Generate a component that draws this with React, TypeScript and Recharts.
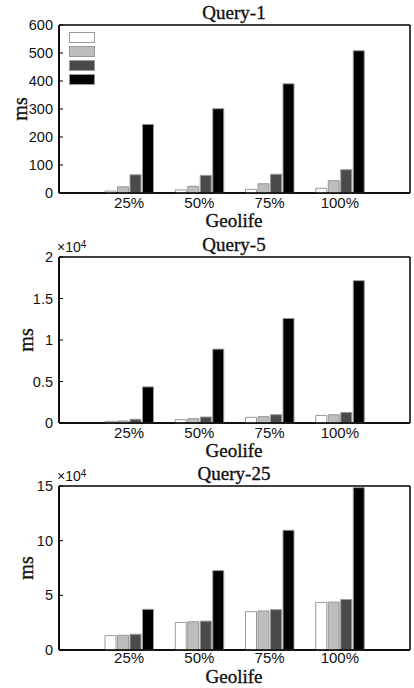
import { BarChart, Bar, XAxis, YAxis, Legend, CartesianGrid } from 'recharts';

const categories = ['25%', '50%', '75%', '100%'];

// Query-1 (ms)
const q1White = [7, 11, 13, 17];
const q1Light = [22, 24, 33, 44];
const q1Dark = [65, 63, 67, 83];
const q1Black = [245, 301, 390, 508];

// Query-5 (ms)
const q5White = [200, 400, 680, 910];
const q5Light = [250, 520, 760, 1000];
const q5Dark = [450, 720, 1000, 1270];
const q5Black = [4350, 8900, 12600, 17150];

// Query-25 (ms)
const q25White = [13200, 25200, 35100, 43500];
const q25Light = [13500, 25800, 35700, 43800];
const q25Dark = [14400, 26400, 36900, 46200];
const q25Black = [37200, 72600, 109500, 148500];

const q1Ticks = [0, 100, 200, 300, 400, 500, 600];
const q5Ticks = [0, 5000, 10000, 15000, 20000];
const q25Ticks = [0, 50000, 100000, 150000];

const seriesKeys = ['white', 'light', 'dark', 'black'];
const seriesFills = ['#ffffff', '#bdbdbd', '#4a4a4a', '#000000'];

const SERIF = '"Liberation Serif", "Times New Roman", serif';
const SANS = '"Liberation Sans", Arial, sans-serif';

function buildRows(w: number[], l: number[], d: number[], b: number[]) {
  return categories.map((cat, i) => ({ cat, white: w[i], light: l[i], dark: d[i], black: b[i] }));
}

function Swatches() {
  return (
    <div style={{ display: 'flex', flexDirection: 'column', gap: 3 }}>
      {seriesFills.map((f) => (
        <div key={f} style={{ width: 24, height: 9, background: f, border: '1px solid #999' }} />
      ))}
    </div>
  );
}

// box frame around the plot area (top/bottom + left/right edges)
const frameH = ({ offset }: any) => [offset.top, offset.top + offset.height];
const frameV = ({ offset }: any) => [offset.left, offset.left + offset.width];

const serifText = {
  fontFamily: SERIF,
  color: '#111',
  WebkitTextStroke: '0.35px #111',
} as const;

interface PanelProps {
  title: string;
  top: number;
  height: number;
  plotTop: number;
  axisHeight: number;
  rows: Array<Record<string, string | number>>;
  ticks: number[];
  fmt: (v: number) => string;
  legend?: boolean;
  exponent?: boolean;
  msX: number;
  xlabelY: number;
  tickMargin?: number;
}

function Panel({ title, top, height, plotTop, axisHeight, rows, ticks, fmt, legend, exponent, msX, xlabelY, tickMargin = 4 }: PanelProps) {
  const plotBottom = height - axisHeight;
  const midY = (plotTop + plotBottom) / 2;
  return (
    <div style={{ position: 'absolute', left: 0, top, width: 414, height }}>
      <div
        style={{
          ...serifText, position: 'absolute', left: 58, width: 352, top: plotTop - 22, textAlign: 'center',
          fontSize: 19, lineHeight: '20px',
        }}
      >
        {title}
      </div>
      {exponent && (
        <div style={{ position: 'absolute', left: 57, top: plotTop - 17, fontFamily: SANS, fontSize: 14, lineHeight: '15px', color: '#111' }}>
          ×10<sup style={{ fontSize: 10, verticalAlign: 'top', lineHeight: '10px' }}>4</sup>
        </div>
      )}
      <div
        style={{
          ...serifText, position: 'absolute', left: msX, top: midY, transform: 'translate(-50%, -50%) rotate(-90deg)',
          fontSize: 20, lineHeight: '20px',
        }}
      >
        ms
      </div>
      <div
        style={{
          ...serifText, position: 'absolute', left: 58, width: 352, top: xlabelY - 11, textAlign: 'center',
          fontSize: 19, lineHeight: '21px',
        }}
      >
        Geolife
      </div>
      <BarChart
        width={414}
        height={height}
        data={rows}
        margin={{ top: plotTop, right: 4, bottom: 0, left: 0 }}
        barSize={11}
        barGap={1.5}
      >
        <CartesianGrid
          stroke="#000"
          strokeWidth={1.5}
          horizontalCoordinatesGenerator={frameH}
          verticalCoordinatesGenerator={frameV}
        />
        <XAxis
          dataKey="cat"
          height={axisHeight}
          padding={{ left: 35, right: 35 }}
          tickLine={false}
          tickSize={0}
          tickMargin={tickMargin}
          axisLine={{ stroke: '#000', strokeWidth: 1.5 }}
          tick={{ fontSize: 15, fill: '#111', fontFamily: SANS }}
        />
        <YAxis
          width={59}
          domain={[ticks[0], ticks[ticks.length - 1]]}
          ticks={ticks}
          tickFormatter={fmt}
          tickSize={-4}
          tickMargin={10}
          tickLine={{ stroke: '#000' }}
          axisLine={{ stroke: '#000', strokeWidth: 1.5 }}
          tick={{ fontSize: 14.5, fill: '#111', fontFamily: SANS }}
          interval={0}
        />
        {legend && (
          <Legend
            layout="vertical"
            align="center"
            verticalAlign="middle"
            wrapperStyle={{ left: 69, top: plotTop + 7, width: 'auto' }}
            content={() => <Swatches />}
          />
        )}
        {seriesKeys.map((k, i) => (
          <Bar key={k} dataKey={k} fill={seriesFills[i]} stroke="#999" strokeWidth={1} isAnimationActive={false} />
        ))}
      </BarChart>
    </div>
  );
}

export default function App() {
  return (
    <div style={{ position: 'absolute', left: 0, top: 0, width: 414, height: 688, background: '#fff' }}>
      <Panel
        title="Query-1"
        top={0}
        height={230}
        plotTop={25}
        axisHeight={37}
        rows={buildRows(q1White, q1Light, q1Dark, q1Black)}
        ticks={q1Ticks}
        fmt={(v) => String(v)}
        legend
        msX={20}
        xlabelY={221}
      />
      <Panel
        title="Query-5"
        top={230}
        height={230}
        plotTop={27}
        axisHeight={37}
        rows={buildRows(q5White, q5Light, q5Dark, q5Black)}
        ticks={q5Ticks}
        fmt={(v) => String(v / 10000)}
        exponent
        msX={26}
        xlabelY={221}
      />
      <Panel
        title="Query-25"
        top={460}
        height={228}
        plotTop={26}
        axisHeight={38}
        rows={buildRows(q25White, q25Light, q25Dark, q25Black)}
        ticks={q25Ticks}
        fmt={(v) => String(v / 10000)}
        exponent
        msX={26}
        xlabelY={217}
        tickMargin={2}
      />
    </div>
  );
}
